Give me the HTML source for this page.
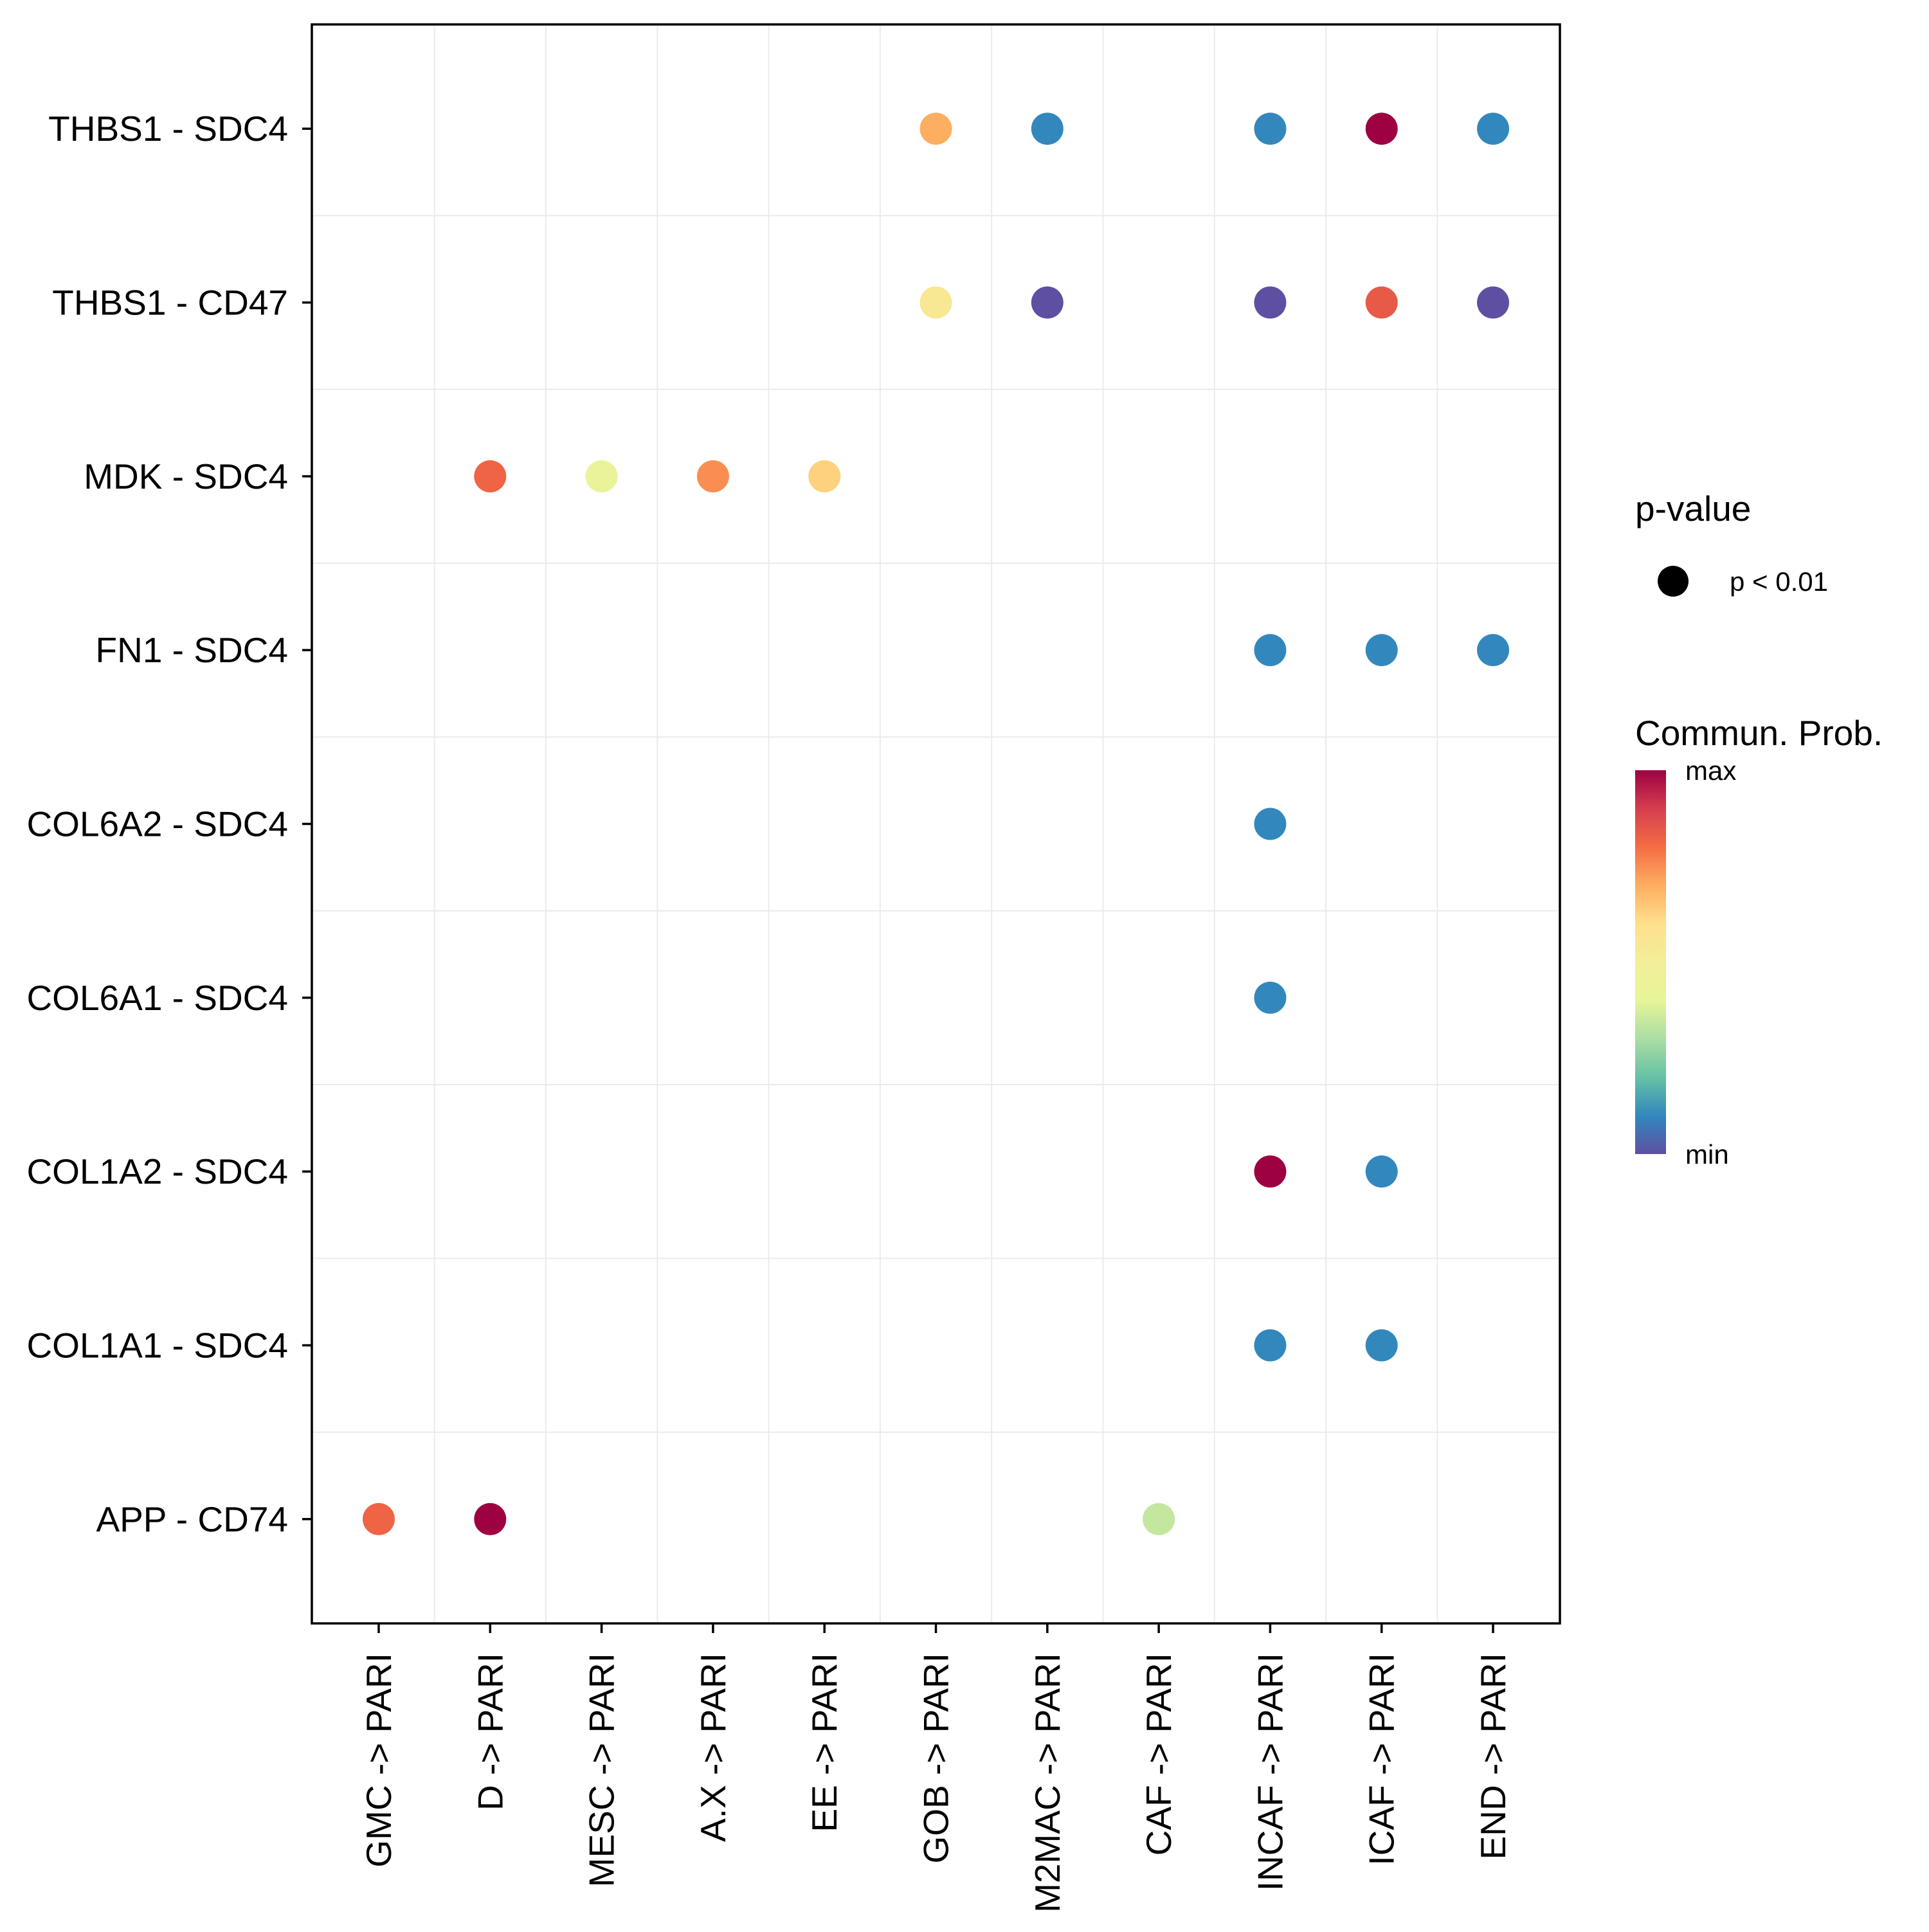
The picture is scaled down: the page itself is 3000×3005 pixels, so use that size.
<!DOCTYPE html>
<html><head><meta charset="utf-8"><style>
html,body{margin:0;padding:0;background:#fff;}
svg text{font-family:"Liberation Sans",Arial,sans-serif;fill:#000;}
</style></head><body>
<svg id="chart" xmlns="http://www.w3.org/2000/svg" width="3000" height="3000" viewBox="0 0 3000 3000">
<defs>
<linearGradient id="spec" x1="0" y1="1" x2="0" y2="0">
<stop offset="0" stop-color="#5E4FA2"/><stop offset="0.1" stop-color="#3288BD"/><stop offset="0.2" stop-color="#66C2A5"/><stop offset="0.3" stop-color="#ABDDA4"/><stop offset="0.4" stop-color="#E6F598"/><stop offset="0.5" stop-color="#F2EE9A"/><stop offset="0.6" stop-color="#FEE08B"/><stop offset="0.7" stop-color="#FDAE61"/><stop offset="0.8" stop-color="#F46D43"/><stop offset="0.9" stop-color="#D53E4F"/><stop offset="1" stop-color="#9E0142"/>
</linearGradient>
</defs>
<g id="grid"></g>
<g id="dots"></g>
<rect x="485" y="38" width="1941" height="2487" fill="none" stroke="#000" stroke-width="3.5"/>
<g id="yaxis"></g>
<g id="xaxis"></g>
<g>
<text x="2543" y="810" font-size="55">p-value</text>
<circle cx="2602" cy="904" r="24" fill="#000"/>
<text x="2690" y="919" font-size="42">p &lt; 0.01</text>
<text x="2543" y="1159" font-size="55">Commun. Prob.</text>
<rect x="2543" y="1198" width="48" height="597" fill="url(#spec)"/>
<text x="2621" y="1213" font-size="42">max</text>
<text x="2621" y="1810" font-size="42">min</text>
</g>
</svg>
<script>
const xCats = ["GMC -> PARI","D -> PARI","MESC -> PARI","A.X -> PARI","EE -> PARI","GOB -> PARI","M2MAC -> PARI","CAF -> PARI","INCAF -> PARI","ICAF -> PARI","END -> PARI"];
const yCats = ["THBS1 - SDC4","THBS1 - CD47","MDK - SDC4","FN1 - SDC4","COL6A2 - SDC4","COL6A1 - SDC4","COL1A2 - SDC4","COL1A1 - SDC4","APP - CD74"];
const pointX = ["GOB -> PARI","M2MAC -> PARI","INCAF -> PARI","ICAF -> PARI","END -> PARI","GOB -> PARI","M2MAC -> PARI","INCAF -> PARI","ICAF -> PARI","END -> PARI","D -> PARI","MESC -> PARI","A.X -> PARI","EE -> PARI","INCAF -> PARI","ICAF -> PARI","END -> PARI","INCAF -> PARI","INCAF -> PARI","INCAF -> PARI","ICAF -> PARI","INCAF -> PARI","ICAF -> PARI","GMC -> PARI","D -> PARI","CAF -> PARI"];
const pointY = ["THBS1 - SDC4","THBS1 - SDC4","THBS1 - SDC4","THBS1 - SDC4","THBS1 - SDC4","THBS1 - CD47","THBS1 - CD47","THBS1 - CD47","THBS1 - CD47","THBS1 - CD47","MDK - SDC4","MDK - SDC4","MDK - SDC4","MDK - SDC4","FN1 - SDC4","FN1 - SDC4","FN1 - SDC4","COL6A2 - SDC4","COL6A1 - SDC4","COL1A2 - SDC4","COL1A2 - SDC4","COL1A1 - SDC4","COL1A1 - SDC4","APP - CD74","APP - CD74","APP - CD74"];
const prob = [0.7,0.1,0.1,1.0,0.1, 0.55,0.0,0.0,0.84,0.0, 0.82,0.43,0.75,0.63, 0.1,0.1,0.1, 0.1, 0.1, 1.0,0.1, 0.1,0.1, 0.82,1.0,0.34];

const NS="http://www.w3.org/2000/svg";
const L=485,R=2426,T=38,B=2525;
const xs=(R-L)/(xCats.length+0.2), ys=(B-T)/(yCats.length+0.2);
function xPos(c){return L+(xCats.indexOf(c)+0.6)*xs;}
function yPos(c){return T+(yCats.indexOf(c)+0.6)*ys;}
const pal=["#5E4FA2","#3288BD","#66C2A5","#ABDDA4","#E6F598","#F2EE9A","#FEE08B","#FDAE61","#F46D43","#D53E4F","#9E0142"];
function color(v){v=Math.max(0,Math.min(1,v))*10;const i=Math.min(9,Math.floor(v)),f=v-i;
 const a=pal[i],b=pal[i+1];const h=(s,k)=>parseInt(s.substr(1+2*k,2),16);
 let o="#";for(let k=0;k<3;k++){o+=Math.round(h(a,k)+(h(b,k)-h(a,k))*f).toString(16).padStart(2,"0");}return o;}
function mk(t,attrs,parent){const e=document.createElementNS(NS,t);for(const k in attrs)e.setAttribute(k,attrs[k]);parent.appendChild(e);return e;}
const grid=document.getElementById("grid");
for(let i=1;i<xCats.length;i++){const x=L+(i+0.1)*xs;
 const g=mk("line",{x1:x,x2:x,y1:T,y2:B,stroke:"#ebebeb","stroke-width":2},grid);
 
 }
for(let i=1;i<yCats.length;i++){const y=T+(i+0.1)*ys;
 const g=mk("line",{x1:L,x2:R,y1:y,y2:y,stroke:"#ebebeb","stroke-width":2},grid);
 
 }
const dots=document.getElementById("dots");
for(let i=0;i<prob.length;i++){
 const c=mk("circle",{cx:xPos(pointX[i]),cy:yPos(pointY[i]),r:25,fill:color(prob[i])},dots);
 
 }
const ya=document.getElementById("yaxis");
yCats.forEach(c=>{const y=yPos(c);
 const t=mk("line",{x1:470,x2:485,y1:y,y2:y,stroke:"#000","stroke-width":3.5},ya);
 
 
 const l=mk("text",{x:448,y:y+19,"font-size":55,"text-anchor":"end"},ya);l.textContent=c;
 
 });
const xa=document.getElementById("xaxis");
xCats.forEach(c=>{const x=xPos(c);
 const t=mk("line",{x1:x,x2:x,y1:B,y2:B+15,stroke:"#000","stroke-width":3.5},xa);
 
 
 const l=mk("text",{x:0,y:0,"font-size":55,"text-anchor":"end",transform:`translate(${x+19},${B+46}) rotate(-90)`},xa);l.textContent=c;
 
 });
</script>
</body></html>
